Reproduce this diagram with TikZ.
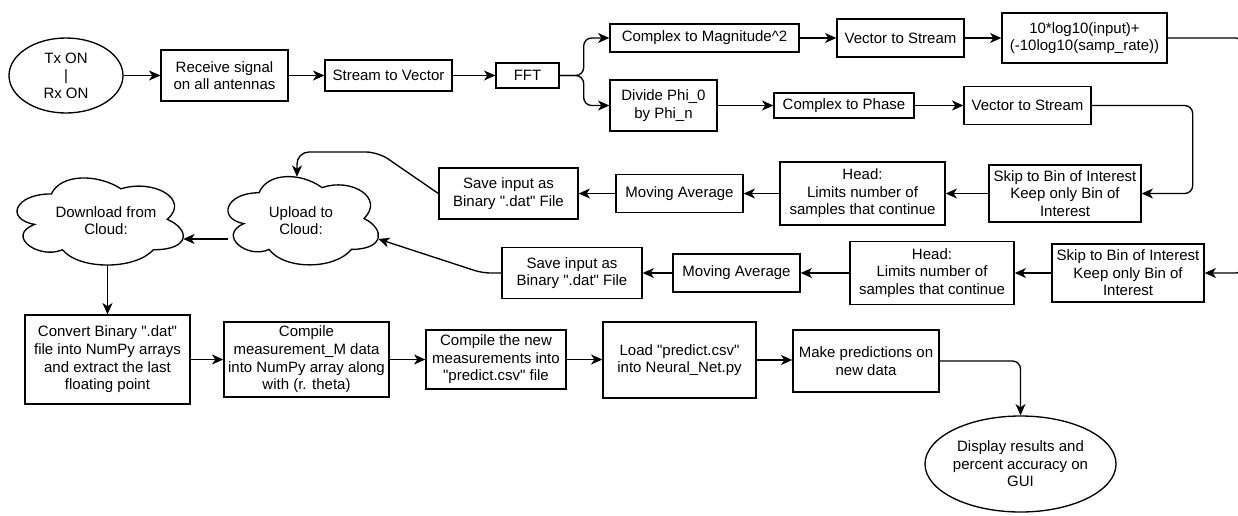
\documentclass[tikz,border=0pt]{standalone}
\usepackage{fontspec}
\newfontfamily\libsans{Liberation Sans}
\newcommand\dfsz{\libsans\fontsize{11.25}{13.2}\selectfont}
% draw.io style cloud outline, in unit box (0,0)-(1,1), y downwards
\newcommand\drawiocloud[4]{%
  \begin{scope}[shift={(#1,#2)}, x=#3*0.75pt, y=-#4*0.75pt]
    \draw[line width=1pt] (0.25,0.25)
      .. controls (0.05,0.25) and (0,0.5) .. (0.16,0.55)
      .. controls (0,0.66) and (0.18,0.9) .. (0.31,0.8)
      .. controls (0.4,1) and (0.7,1) .. (0.8,0.8)
      .. controls (1,0.8) and (1,0.6) .. (0.875,0.5)
      .. controls (1,0.3) and (0.8,0.1) .. (0.625,0.2)
      .. controls (0.5,0.05) and (0.3,0.05) .. (0.25,0.25) -- cycle;
  \end{scope}}
\usetikzlibrary{arrows.meta,shapes.geometric}
\begin{document}
\begin{tikzpicture}[x=0.75pt,y=-0.75pt,
  box/.style 2 args={draw, line width=1pt, rectangle, inner sep=0pt, align=center,
    minimum width=#1*0.75pt, minimum height=#2*0.75pt, font=\dfsz},
  ell/.style 2 args={draw, line width=1pt, ellipse, inner sep=0pt, align=center,
    minimum width=#1*0.75pt, minimum height=#2*0.75pt, font=\dfsz},
  cldbox/.style 2 args={rectangle, inner sep=0pt,
    minimum width=#1*0.75pt, minimum height=#2*0.75pt},
  txt/.style={inner sep=0pt, align=center, font=\dfsz},
  arr/.style={draw, line width=1pt, -{Stealth[length=8.5pt,width=7.5pt,inset=2.5pt]}},
  rc/.style={rounded corners=6pt}]
\useasboundingbox (0,0) rectangle (1238,515);
\clip (0,0) rectangle (1238,515);

% top row
\node[ell={114}{75}] (tx) at (66,75.5) {Tx ON\\|\\Rx ON};
\node[box={127}{51}] (recv) at (224.5,75.5) {Receive signal\\on all antennas};
\node[box={127}{31}] (s2v) at (388.5,75.5) {Stream to Vector};
\node[box={63}{25}] (fft) at (527.5,75.5) {FFT};
\node[box={189}{28}] (cmag) at (704.5,38) {Complex to Magnitude\^{}2};
\node[box={127}{38}] (v2sa) at (900.5,38) {Vector to Stream};
\node[box={165}{50}] (logb) at (1084.5,38) {10*log10(input)+\\(-10log10(samp\_rate))};
\node[box={107}{51}] (div) at (663.5,105.5) {Divide Phi\_0\\by Phi\_n};
\node[box={140}{25}] (cph) at (844,105.5) {Complex to Phase};
\node[box={127}{38}] (v2sb) at (1027.5,105.5) {Vector to Stream};

% middle rows
\node[box={152}{57}] (skipa) at (1065,193.5) {Skip to Bin of Interest\\Keep only Bin of\\Interest};
\node[box={165}{63}] (heada) at (862.5,193.5) {Head:\\Limits number of\\samples that continue};
\node[box={127}{38}] (maa) at (679.5,193.5) {Moving Average};
\node[box={139}{51}] (savea) at (508.5,193.5) {Save input as\\Binary ".dat" File};

\node[box={152}{58}] (skipb) at (1128,273) {Skip to Bin of Interest\\Keep only Bin of\\Interest};
\node[box={164}{63}] (headb) at (932,273) {Head:\\Limits number of\\samples that continue};
\node[box={127}{38}] (mab) at (736.5,273) {Moving Average};
\node[box={140}{51}] (saveb) at (572,273) {Save input as\\Binary ".dat" File};

% clouds
\drawiocloud{217}{167}{168}{103}
\node[cldbox={150}{88}] (up) at (303,221) {};
\node[txt] (uptxt) at (301,220.5) {Upload to\\Cloud:};
\drawiocloud{5}{168.5}{185.5}{101.6}
\node[cldbox={166}{87}] (down) at (100,221.5) {};
\node[txt] (downtxt) at (106,220.5) {Download from\\Cloud:};

% bottom row
\node[box={165}{89}] (conv) at (107.5,359.5) {Convert Binary ".dat"\\file into NumPy arrays\\and extract the last\\floating point};
\node[box={165}{75}] (compm) at (306.5,359.5) {Compile\\measurement\_M data\\into NumPy array along\\with (r. theta)};
\node[box={140}{59}] (compn) at (496,359.5) {Compile the new\\measurements into\\"predict.csv" file};
\node[box={153}{76}] (load) at (679.5,360) {Load "predict.csv"\\into Neural\_Net.py};
\node[box={146}{62}] (make) at (866,361) {Make predictions on\\new data};
\node[ell={165}{96}] (disp) at (1020.5,464) {Display results and\\percent accuracy on\\GUI};

% connectors top
\draw[arr] (tx.east) -- (recv.west);
\draw[arr] (recv.east) -- (s2v.west);
\draw[arr] (s2v.east) -- (fft.west);
\draw[arr,rc] (fft.east) -- ++(24,0) |- (cmag.west);
\draw[arr,rc] (fft.east) -- ++(24,0) |- (div.west);
\draw[arr] (cmag.east) -- (v2sa.west);
\draw[arr] (v2sa.east) -- (logb.west);
\draw[arr] (div.east) -- (cph.west);
\draw[arr] (cph.east) -- (v2sb.west);
\draw[arr,rc] (v2sb.east) -- ++(101,0) |- (skipa.east);
\draw[arr,rc] (logb.east) -- ++(76,0) |- (skipb.east);

% middle rows
\draw[arr] (skipa.west) -- (skipa.west -| heada.east);
\draw[arr] (heada.west) -- (heada.west -| maa.east);
\draw[arr] (maa.west) -- (maa.west -| savea.east);
\draw[arr] (skipb.west) -- (skipb.west -| headb.east);
\draw[arr] (headb.west) -- (headb.west -| mab.east);
\draw[arr] (mab.west) -- (mab.west -| saveb.east);

\draw[arr,rounded corners=9pt] (savea.west) -- (378,152) -- (297,152) -- ([xshift=-4.5pt]up.north);
\draw[arr,rounded corners=6pt] (saveb.west) -- ++(-19,0) -- ([yshift=-13.5pt]up.east);
\draw[arr] ([yshift=-13.5pt]up.west) -- ([yshift=-13.5pt]up.west -| down.east);
\draw[arr] (down.south -| conv.north) -- (conv.north);

% bottom row
\draw[arr] (conv.east) -- (conv.east -| compm.west);
\draw[arr] (compm.east) -- (compm.east -| compn.west);
\draw[arr] (compn.east) -- (compn.east -| load.west);
\draw[arr] (load.east) -- (load.east -| make.west);
\draw[arr,rc] (make.east) -| (disp.north);
\end{tikzpicture}
\end{document}
